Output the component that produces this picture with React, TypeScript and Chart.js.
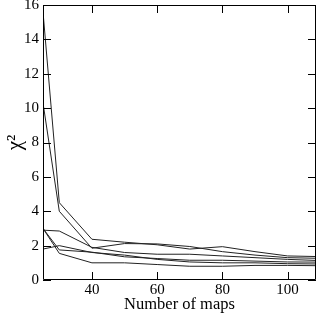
import React, { useEffect, useRef } from "react";
import { Chart, registerables } from "chart.js";

Chart.register(...registerables);

const xValues = [25, 30, 40, 50, 60, 70, 80, 90, 100, 110];
const seriesA = [15.6, 4.5, 2.37, 2.2, 2.05, 1.8, 1.94, 1.65, 1.4, 1.36];
const seriesB = [10.3, 4.0, 1.85, 2.12, 2.1, 1.95, 1.65, 1.45, 1.3, 1.26];
const seriesC = [2.9, 2.85, 1.9, 1.6, 1.5, 1.5, 1.4, 1.3, 1.2, 1.13];
const seriesD = [3.0, 1.75, 1.62, 1.35, 1.25, 1.15, 1.15, 1.1, 1.05, 1.04];
const seriesE = [1.8, 2.0, 1.6, 1.45, 1.2, 1.05, 1.0, 1.0, 0.95, 0.93];
const seriesF = [3.0, 1.55, 1.0, 1.0, 0.9, 0.8, 0.8, 0.85, 0.85, 0.83];
const xTicks = [40, 60, 80, 100];
const yTicks = [0, 2, 4, 6, 8, 10, 12, 14, 16];
const xTitle = "Number of maps";
const yTitle = "χ²";

const allSeries = [seriesA, seriesB, seriesC, seriesD, seriesE, seriesF];

const FONT = "'Liberation Serif', 'Times New Roman', serif";

const framePlugin = {
  id: "frameTicks",
  afterDatasetsDraw(chart: any) {
    const { ctx, chartArea, scales } = chart;
    const { left, right, top, bottom } = chartArea;
    ctx.save();
    ctx.strokeStyle = "#000";
    ctx.lineWidth = 1;
    ctx.beginPath();
    ctx.rect(left + 0.5, top + 0.5, right - left - 1, bottom - top - 1);
    ctx.stroke();
    const L = 8;
    ctx.beginPath();
    xTicks.forEach((v) => {
      const px = Math.round(scales.x.getPixelForValue(v)) + 0.5;
      ctx.moveTo(px, bottom);
      ctx.lineTo(px, bottom - L);
      ctx.moveTo(px, top);
      ctx.lineTo(px, top + L);
    });
    yTicks.forEach((v) => {
      const py = Math.round(scales.y.getPixelForValue(v)) + 0.5;
      ctx.moveTo(left, py);
      ctx.lineTo(left + L, py);
      ctx.moveTo(right, py);
      ctx.lineTo(right - L, py);
    });
    ctx.stroke();

    ctx.fillStyle = "#000";
    ctx.font = `15px ${FONT}`;
    ctx.textAlign = "center";
    ctx.textBaseline = "top";
    xTicks.forEach((v) => {
      ctx.fillText(String(v), scales.x.getPixelForValue(v), bottom + 3);
    });
    ctx.textAlign = "right";
    ctx.textBaseline = "middle";
    yTicks.forEach((v) => {
      ctx.fillText(String(v), left - 4, scales.y.getPixelForValue(v));
    });

    ctx.font = `16.5px ${FONT}`;
    ctx.textAlign = "center";
    ctx.textBaseline = "alphabetic";
    ctx.fillText(xTitle, (left + right) / 2, 309);

    ctx.font = `21px ${FONT}`;
    ctx.textAlign = "center";
    ctx.textBaseline = "middle";
    ctx.translate(15, (top + bottom) / 2);
    ctx.rotate(-Math.PI / 2);
    ctx.fillText(yTitle, 0, 0);
    ctx.restore();
  },
};

export default function App() {
  const ref = useRef<HTMLCanvasElement>(null);
  useEffect(() => {
    document.body.style.margin = "0";
    const chart = new Chart(ref.current!, {
      type: "line",
      data: {
        datasets: allSeries.map((s) => ({
          data: s.map((v, i) => ({ x: xValues[i], y: v })),
          borderColor: "#222",
          borderWidth: 1,
          pointRadius: 0,
          tension: 0,
          fill: false,
        })),
      },
      options: {
        animation: false,
        responsive: false,
        events: [],
        layout: { padding: { left: 0, right: 3, top: 5, bottom: 0 } },
        plugins: { legend: { display: false }, tooltip: { enabled: false } },
        scales: {
          x: {
            type: "linear",
            min: 25,
            max: 108.7,
            afterFit: (scale: any) => {
              scale.height = 33;
            },
            grid: { display: false, drawTicks: false },
            border: { display: false },
            ticks: { display: false },
          },
          y: {
            type: "linear",
            min: 0,
            max: 16,
            afterFit: (scale: any) => {
              scale.width = 43;
            },
            grid: { display: false, drawTicks: false },
            border: { display: false },
            ticks: { display: false },
          },
        },
      },
      plugins: [framePlugin],
    });
    return () => chart.destroy();
  }, []);
  return (
    <div style={{ width: 319, height: 313 }}>
      <canvas ref={ref} width={319} height={313} />
    </div>
  );
}
